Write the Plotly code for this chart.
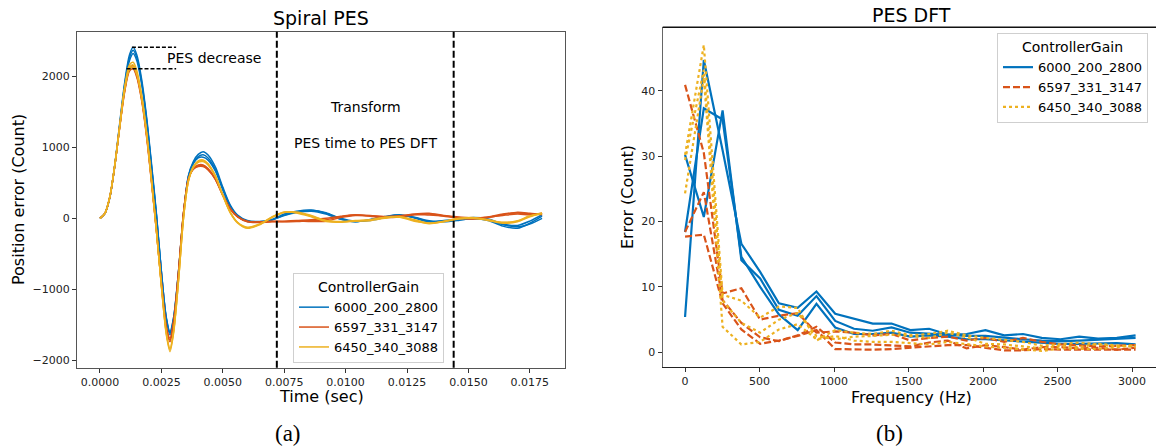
import plotly.graph_objects as go

W, H = 1156, 448

# ---------------- data: Spiral PES (time in ms) ----------------
TIME_MS = [0.0, 0.2, 0.4, 0.6, 0.8, 1.0, 1.2, 1.35, 1.5, 1.7,
           1.9, 2.1, 2.3, 2.5, 2.7, 2.85, 3.0, 3.2, 3.4, 3.6,
           3.8, 4.0, 4.2, 4.4, 4.7, 5.0, 5.3, 5.6, 6.0, 6.5,
           7.0, 7.5, 8.0, 8.6, 9.2, 9.8, 10.4, 11.0, 11.6, 12.2,
           12.8, 13.4, 14.0, 14.6, 15.2, 15.8, 16.4, 17.0, 17.5, 18.0]

PES_6000_200_2800 = [
    [0, 70, 300, 750, 1330, 1900, 2300, 2408, 2300, 1950, 1420, 760, 60, -750, -1420, -1640, -1420, -760, 50, 600,
     800, 900, 938, 890, 720, 440, 190, 46, -30, -45, -15, 60, 100, 117, 70, -10, -47, -20, 20, 46,
     10, -45, -40, -20, -5, -30, -110, -140, -70, 30],
    [0, 68, 295, 740, 1310, 1870, 2260, 2365, 2260, 1910, 1390, 730, 40, -760, -1410, -1615, -1400, -740, 60, 590,
     780, 870, 895, 850, 690, 420, 175, 35, -40, -55, -25, 45, 90, 110, 80, 0, -40, -30, 10, 40,
     15, -35, -50, -30, 0, -20, -90, -120, -80, 0],
    [0, 66, 290, 730, 1290, 1840, 2220, 2320, 2220, 1880, 1370, 710, 30, -755, -1395, -1597, -1390, -735, 65, 580,
     770, 850, 860, 820, 665, 400, 165, 30, -45, -50, -20, 40, 80, 100, 60, -15, -50, -15, 25, 50,
     5, -50, -30, -15, 10, -10, -80, -100, -40, 50],
]
PES_6597_331_3147 = [
    [0, 70, 300, 740, 1290, 1800, 2120, 2150, 2030, 1690, 1180, 530, -160, -900, -1520, -1690, -1440, -740, 80, 560,
     700, 750, 751, 700, 560, 330, 140, 25, -40, -55, -40, -45, -40, -45, -40, 10, 40, 35, 25, 30,
     60, 70, 40, 20, 5, 20, 60, 75, 60, 60],
    [0, 69, 298, 735, 1280, 1785, 2095, 2125, 2005, 1670, 1160, 510, -180, -930, -1560, -1737, -1480, -760, 70, 545,
     690, 728, 728, 680, 545, 320, 130, 20, -50, -60, -50, -40, -30, -20, 0, 30, 50, 30, 10, 20,
     50, 60, 30, 0, -10, 10, 50, 85, 70, 50],
    [0, 68, 295, 730, 1270, 1770, 2075, 2105, 1985, 1650, 1140, 495, -190, -920, -1545, -1715, -1460, -750, 75, 550,
     695, 740, 742, 690, 550, 325, 135, 22, -45, -50, -45, -50, -45, -30, -20, 20, 45, 40, 20, 35,
     55, 45, 35, 10, -5, 15, 40, 60, 50, 70],
]
PES_6450_340_3088 = [
    [0, 70, 302, 745, 1300, 1840, 2160, 2197, 2080, 1730, 1210, 540, -170, -960, -1640, -1878, -1610, -870, 0, 530,
     730, 810, 822, 770, 600, 330, 90, -60, -141, -90, 10, 80, 90, 40, -30, -50, -40, -33, 0, 20,
     -20, -70, -50, -10, 0, -30, -70, -50, 20, 70],
    [0, 69, 300, 740, 1285, 1815, 2125, 2160, 2045, 1700, 1190, 525, -180, -950, -1620, -1850, -1590, -860, 5, 520,
     715, 790, 798, 750, 585, 320, 80, -65, -135, -85, 15, 85, 80, 30, -35, -45, -35, -25, 10, 25,
     -30, -75, -45, -5, 5, -25, -60, -40, 30, 75],
    [0, 68, 298, 735, 1275, 1800, 2100, 2130, 2020, 1680, 1175, 515, -185, -945, -1605, -1831, -1575, -850, 10, 525,
     720, 800, 810, 760, 590, 325, 85, -55, -125, -80, 20, 90, 75, 20, -45, -55, -30, -20, 15, 15,
     -40, -65, -40, 0, 10, -20, -55, -35, 35, 65],
]

# ---------------- data: PES DFT ----------------
FREQ_HZ = [0, 126, 252, 378, 504, 630, 756, 882, 1008, 1134, 1260, 1386, 1512,
           1638, 1764, 1890, 2016, 2142, 2268, 2394, 2520, 2646, 2772, 2898, 3024]

DFT_6000_200_2800 = [
    [5.4, 44.7, 30.9, 16.6, 12.3, 7.5, 6.8, 9.3, 5.9, 5.2, 4.4, 4.4, 3.4, 3.6, 2.7, 2.8, 3.4, 2.6, 2.8, 2.2, 2.0, 2.4, 2.1, 2.2, 2.6],
    [30.2, 20.7, 37.0, 14.1, 11.3, 6.5, 5.6, 8.6, 4.8, 3.6, 3.3, 3.8, 3.0, 2.8, 2.6, 2.5, 2.5, 2.2, 2.0, 1.8, 1.7, 1.8, 1.9, 2.0, 2.2],
    [18.4, 37.3, 35.6, 14.6, 10.0, 5.8, 3.4, 7.4, 3.8, 2.8, 2.8, 3.0, 2.4, 2.6, 2.4, 2.0, 2.0, 1.8, 1.7, 1.5, 1.3, 1.3, 1.3, 1.4, 1.2],
]
DFT_6597_331_3147 = [
    [40.9, 30.5, 9.0, 9.8, 5.0, 5.6, 6.0, 3.0, 3.2, 3.0, 2.6, 2.8, 1.8, 2.2, 2.4, 1.8, 2.2, 1.6, 2.2, 1.6, 1.2, 1.0, 0.9, 1.0, 1.1],
    [18.4, 24.5, 8.0, 4.5, 2.3, 1.7, 2.6, 3.9, 1.5, 1.2, 1.2, 1.0, 0.9, 1.5, 1.8, 0.6, 1.1, 0.8, 0.4, 0.8, 0.8, 0.6, 0.7, 0.4, 0.7],
    [17.7, 18.0, 7.5, 3.5, 1.3, 1.8, 2.5, 3.4, 0.5, 0.4, 0.4, 0.5, 0.7, 1.0, 1.1, 1.1, 0.7, 0.3, 0.3, 0.5, 0.4, 0.4, 0.4, 0.3, 0.4],
]
DFT_6450_340_3088 = [
    [30.2, 47.0, 8.8, 7.9, 5.3, 7.0, 6.8, 1.8, 3.4, 3.0, 2.8, 3.3, 2.6, 2.8, 3.3, 2.6, 2.2, 1.9, 1.6, 1.0, 1.2, 1.5, 1.2, 0.9, 1.0],
    [29.4, 43.2, 7.9, 4.5, 3.0, 5.0, 6.0, 2.5, 2.0, 2.4, 2.5, 2.7, 2.5, 2.2, 3.0, 2.3, 1.3, 1.2, 0.9, 0.6, 1.0, 0.8, 1.3, 1.1, 0.8],
    [24.3, 42.0, 3.9, 1.2, 1.6, 3.5, 4.3, 2.0, 2.5, 1.8, 1.6, 1.6, 1.4, 1.2, 1.6, 1.2, 0.9, 0.7, 0.5, 0.2, 0.6, 0.6, 0.5, 0.8, 1.1],
]

GAIN_LABELS = ["6000_200_2800", "6597_331_3147", "6450_340_3088"]
TRANSFORM_WINDOW_SEC = [0.0072, 0.0144]
PES_DECREASE_END_SEC = 0.0031

# ---------------- styling ----------------
COLORS = ["#0072BD", "#D95319", "#EDB120"]
DASHES = ["solid", "7px,3px", "dot"]
FONT = "DejaVu Sans"
SERIF = "Liberation Serif"


def px_x(p):
    return p / W


def px_y(p):
    return 1 - p / H


time_sec = [t / 1000.0 for t in TIME_MS]
pes_groups = [PES_6000_200_2800, PES_6597_331_3147, PES_6450_340_3088]
dft_groups = [DFT_6000_200_2800, DFT_6597_331_3147, DFT_6450_340_3088]

for g in pes_groups:
    for run in g:
        assert len(run) == len(TIME_MS), len(run)
for g in dft_groups:
    for run in g:
        assert len(run) == len(FREQ_HZ), len(run)

fig = go.Figure()

# left panel traces
for gi, (label, runs) in enumerate(zip(GAIN_LABELS, pes_groups)):
    for ri, run in enumerate(runs):
        fig.add_trace(go.Scatter(
            x=time_sec, y=run, mode="lines", name=label,
            line=dict(color=COLORS[gi], width=1.5, shape="spline", smoothing=0.8),
            legendgroup="L" + label, showlegend=(ri == 0),
            xaxis="x", yaxis="y", legend="legend",
        ))

# right panel traces
for gi, (label, runs) in enumerate(zip(GAIN_LABELS, dft_groups)):
    for ri, run in enumerate(runs):
        fig.add_trace(go.Scatter(
            x=FREQ_HZ, y=run, mode="lines", name=label,
            line=dict(color=COLORS[gi], width=2.2, dash=DASHES[gi]),
            legendgroup="R" + label, showlegend=(ri == 0),
            xaxis="x2", yaxis="y2", legend="legend2",
        ))

# annotation lines for left panel
peak_high = max(max(r) for r in PES_6000_200_2800)
peak_low = min(max(r) for g in pes_groups for r in g)
peak_high_t = time_sec[PES_6000_200_2800[0].index(peak_high)]
shapes = []
for xv in TRANSFORM_WINDOW_SEC:
    shapes.append(dict(type="line", xref="x", yref="y domain", x0=xv, x1=xv, y0=0, y1=1,
                       line=dict(color="black", width=2, dash="7px,3px")))
shapes.append(dict(type="line", xref="x", yref="y", x0=peak_high_t - 0.00005, x1=PES_DECREASE_END_SEC,
                   y0=peak_high, y1=peak_high, line=dict(color="black", width=1.5, dash="4px,2px")))
shapes.append(dict(type="line", xref="x", yref="y", x0=0.00108, x1=PES_DECREASE_END_SEC,
                   y0=peak_low, y1=peak_low, line=dict(color="black", width=1.5, dash="4px,2px")))

ann = []


def add_text(text, x, y, size, angle=0, family=FONT, xanchor="center"):
    ann.append(dict(text=text, x=px_x(x), y=px_y(y), xref="paper", yref="paper",
                    showarrow=False, textangle=angle, xanchor=xanchor, yanchor="middle",
                    font=dict(family=family, size=size, color="black")))


add_text("Spiral PES", 321, 18, 19)
add_text("PES DFT", 911, 15, 19)
add_text("Time (sec)", 321, 396, 16)
add_text("Frequency (Hz)", 911, 397, 16)
add_text("Position error (Count)", 18, 200, 16, angle=-90)
add_text("Error (Count)", 628, 197, 16, angle=-90)
add_text("(a)", 288, 433, 23, family=SERIF)
add_text("(b)", 889, 433, 23, family=SERIF)

mid_t = sum(TRANSFORM_WINDOW_SEC) / 2
ann.append(dict(text="Transform", x=mid_t, y=1572, xref="x", yref="y", showarrow=False,
                font=dict(family=FONT, size=14, color="black")))
ann.append(dict(text="PES time to PES DFT", x=mid_t, y=1065, xref="x", yref="y", showarrow=False,
                font=dict(family=FONT, size=14, color="black")))
ann.append(dict(text="PES decrease", x=0.00264, y=2255, xref="x", yref="y", showarrow=False,
                xanchor="left", font=dict(family=FONT, size=14, color="black")))

axis_common = dict(showgrid=False, zeroline=False, ticks="outside", ticklen=4, tickwidth=1,
                   tickcolor="#333", tickfont=dict(family=FONT, size=11, color="#222"),
                   showline=True, linewidth=1.3)

legend_common = dict(font=dict(family=FONT, size=13, color="black"),
                     title=dict(font=dict(family=FONT, size=14, color="black"), side="top center"),
                     bgcolor="rgba(255,255,255,0.85)", bordercolor="#cfcfcf", borderwidth=1,
                     itemwidth=30, tracegroupgap=0, xanchor="left", yanchor="top")

fig.update_layout(
    width=W, height=H, margin=dict(l=0, r=0, t=0, b=0),
    paper_bgcolor="white", plot_bgcolor="white",
    font=dict(family=FONT),
    xaxis=dict(domain=[px_x(77), px_x(565)], range=[-0.000936, 0.018933],
               tickvals=[0, 0.0025, 0.005, 0.0075, 0.01, 0.0125, 0.015, 0.0175],
               tickformat=".4f", mirror=True, linecolor="#555", anchor="y", **axis_common),
    yaxis=dict(domain=[px_y(367.7), px_y(31.7)], range=[-2104, 2628],
               tickvals=[-2000, -1000, 0, 1000, 2000], mirror=True, linecolor="#555",
               anchor="x", **axis_common),
    xaxis2=dict(domain=[px_x(662.7), 1.0], range=[-150, 3161],
                tickvals=[0, 500, 1000, 1500, 2000, 2500, 3000], linecolor="#222",
                anchor="y2", **axis_common),
    yaxis2=dict(domain=[px_y(366.7), px_y(27.3)], range=[-2.2, 49.7],
                tickvals=[0, 10, 20, 30, 40], linecolor="#666", anchor="x2", **axis_common),
    legend=dict(x=px_x(293), y=px_y(273), title_text="ControllerGain", **legend_common),
    legend2=dict(x=px_x(997), y=px_y(33), title_text="ControllerGain", **legend_common),
    shapes=shapes,
    annotations=ann,
)

# top spine for the right panel
fig.add_shape(type="line", xref="x2 domain", yref="y2 domain", x0=0, x1=1, y0=1, y1=1,
              line=dict(color="#111", width=1.6))

fig.write_html("out.html", config={"displayModeBar": False},
               post_script="document.body.style.margin='0px';document.body.style.overflow='hidden';")
